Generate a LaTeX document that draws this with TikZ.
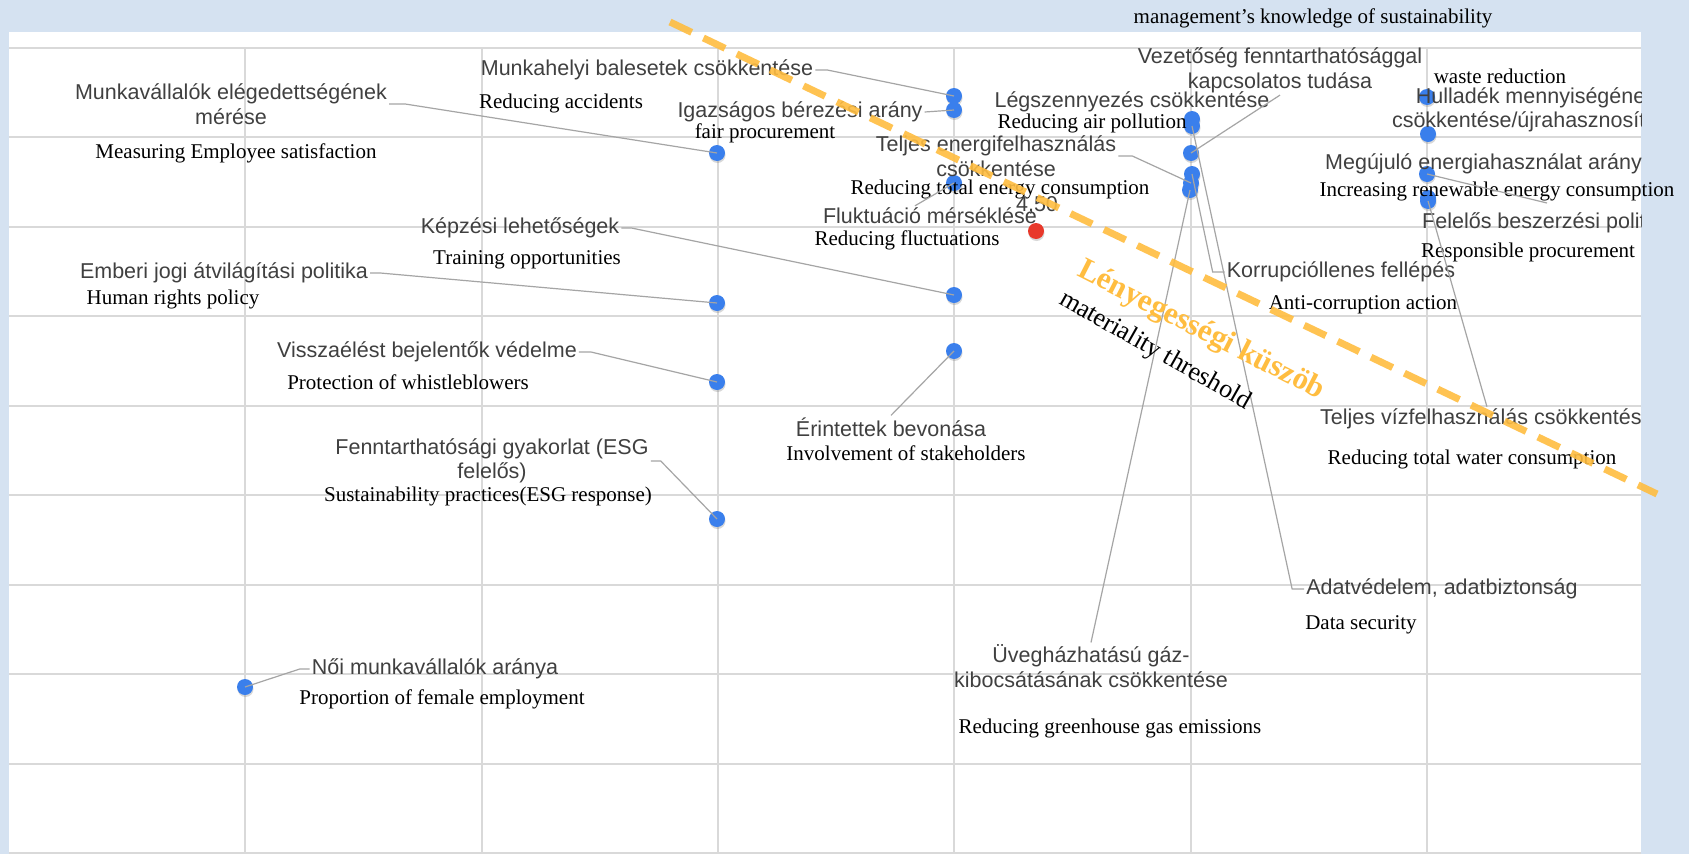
\documentclass[tikz,border=0pt]{standalone}
\usepackage{fontspec}
\setmainfont{Liberation Serif}
\setsansfont{Liberation Sans}
\usepackage{tikz}
\usetikzlibrary{calc, shadows}
\definecolor{bgblue}{RGB}{213, 226, 241}
\definecolor{gridgray}{RGB}{217, 217, 217}
\definecolor{leadergray}{RGB}{165, 165, 165}
\definecolor{labelgray}{RGB}{64, 64, 64}
\definecolor{pointblue}{RGB}{58, 127, 236}
\definecolor{pointred}{RGB}{232, 56, 42}
\definecolor{thresh}{RGB}{255, 189, 64}

\begin{document}
\begin{tikzpicture}[x=1pt, y=-1pt,
    hu/.style={font=\sffamily\fontsize{21.5}{24.5}\selectfont, text=labelgray, inner sep=2pt, align=center, yshift=-2pt},
    en/.style={font=\fontsize{21}{24}\selectfont, text=black, inner sep=2pt, yshift=-2pt},
    ptblue/.style={circle, fill=pointblue, minimum size=16pt, inner sep=0pt, drop shadow={shadow xshift=0.5pt, shadow yshift=-2pt, opacity=0.3}},
    ptred/.style={ptblue, fill=pointred},
    leader/.style={draw=leadergray, line width=1.2pt},
    gridline/.style={draw=gridgray, line width=2pt}]
    \useasboundingbox (0,0) rectangle (1689,854);
    \fill [bgblue] (0,0) rectangle (1689,854);
    \fill [white] (9,32) rectangle (1641,854);
    \foreach \k in {0,...,9} \draw [gridline] (9,48+89.44*\k) -- (1641,48+89.44*\k);
    \foreach \k in {1,...,6} \draw [gridline] (9+236.3*\k,48) -- (9+236.3*\k,853);

    % data points
    \node [ptblue] (pbaleset) at (954,96) {};
    \node [ptblue] (pigazsagos) at (954,110) {};
    \node [ptblue] (pelegedett) at (717,153) {};
    \node [ptblue] (pfluktuacio) at (954,183) {};
    \node [ptblue] (plegszenny) at (1192,119) {};
    \node [ptblue] (padat) at (1192,126) {};
    \node [ptblue] (pvezetoseg) at (1191,153) {};
    \node [ptblue] (pkorrupcio) at (1192,174) {};
    \node [ptblue] (penergia) at (1191,183) {};
    \node [ptblue] (puveg) at (1190,190) {};
    \node [ptblue] (phulladek) at (1427,97) {};
    \node [ptblue] (phulladekb) at (1428,134) {};
    \node [ptblue] (pmegujulo) at (1427,174) {};
    \node [ptblue] (pbeszerzes) at (1428,198) {};
    \node [ptblue] (pviz) at (1428,201) {};
    \node [ptblue] (pkepzes) at (954,295) {};
    \node [ptblue] (perintett) at (954,351) {};
    \node [ptblue] (pemberi) at (717,303) {};
    \node [ptblue] (pvisszaeles) at (717,382) {};
    \node [ptblue] (pfenntart) at (717,519) {};
    \node [ptblue] (pnoi) at (245,687) {};
    \node [ptred] (patlag) at (1036,231) {};

    % labels
    \node [hu] (baleset) at (647,68) {Munkahelyi balesetek csökkentése};
    \node [en] (baleseten) at (561,101) {Reducing accidents};
    \node [hu] (elegedett) at (231,102) {Munkavállalók elégedettségének\\mérése};
    \node [en] (elegedetten) at (236,151) {Measuring Employee satisfaction};
    \node [hu] (igazsagos) at (800,110) {Igazságos bérezési arány};
    \node [en] (igazsagosen) at (765,131) {fair procurement};
    \node [hu] (energia) at (996,154) {Teljes energifelhasználás\\csökkentése};
    \node [en] (energiaen) at (1000,187) {Reducing total energy consumption};
    \node [hu] (atlag) at (1037,203) {4,50};
    \node [hu] (fluktuacio) at (930,214) {Fluktuáció mérséklése};
    \node [en] (fluktuacioen) at (907,238) {Reducing fluctuations};
    \node [hu] (kepzes) at (520,226) {Képzési lehetőségek};
    \node [en] (kepzesen) at (527,258) {Training opportunities};
    \node [hu] (emberi) at (224,271) {Emberi jogi átvilágítási politika};
    \node [en] (emberien) at (173,297) {Human rights policy};
    \node [hu] (visszaeles) at (427,350) {Visszaélést bejelentők védelme};
    \node [en] (visszaelesen) at (408,380) {Protection of whistleblowers};
    \node [hu] (erintett) at (891,425) {Érintettek bevonása};
    \node [en] (erintetten) at (906,451) {Involvement of stakeholders};
    \node [hu] (fenntart) at (492,459) {Fenntarthatósági gyakorlat (ESG\\felelős)};
    \node [en] (fenntarten) at (488,494) {Sustainability practices(ESG response)};
    \node [hu] (noi) at (435,667) {Női munkavállalók aránya};
    \node [en] (noien) at (442,697) {Proportion of female employment};
    \node [hu] (uveg) at (1091,664) {Üvegházhatású gáz-\\kibocsátásának csökkentése};
    \node [en] (uvegen) at (1110,726) {Reducing greenhouse gas emissions};
    \node [hu] (adat) at (1442,587) {Adatvédelem, adatbiztonság};
    \node [en] (adaten) at (1361,623) {Data security};
    \node [hu] (korrupcio) at (1341,270) {Korrupcióllenes fellépés};
    \node [en] (korrupcioen) at (1363,303) {Anti-corruption action};
    \node [hu] (vezetoseg) at (1280,68.5) {Vezetőség fenntarthatósággal\\kapcsolatos tudása};
    \node [en] (vezetosegen) at (1313,16) {management's knowledge of sustainability};
    \node [hu] (legszenny) at (1132,100) {Légszennyezés csökkentése};
    \node [en] (legszennyen) at (1092,121) {Reducing air pollution};
    \node [en] (hulladeken) at (1500,74) {waste reduction};
    \node [en] (megujuloen) at (1497,189) {Increasing renewable energy consumption};
    \node [en] (beszerzesen) at (1528,250) {Responsible procurement};
    \node [en] (vizen) at (1472,457) {Reducing total water consumption};
    \begin{scope}
        \clip (9,32) rectangle (1641,854);
        \node [hu] (hulladek) at (1536,108) {Hulladék mennyiségének\\csökkentése/újrahasznosítása};
        \node [hu, anchor=west] (megujulo) at (1323,162) {Megújuló energiahasználat aránya};
        \node [hu, anchor=west] (beszerzes) at (1420,221) {Felelős beszerzési politika};
        \node [hu, anchor=west] (viz) at (1318,417) {Teljes vízfelhasználás csökkentése};
    \end{scope}

    % leader lines
    \coordinate (megujuloveg) at (1547,203);
    \draw [leader] (baleset.east) -- ++(12,0) -- (pbaleset.center);
    \draw [leader] (elegedett.east) -- ++(16,0) -- (pelegedett.center);
    \draw [leader] (igazsagos.east) -- (pigazsagos.center);
    \draw [leader] (energia.east) -- ++(14,0) -- (penergia.center);
    \draw [leader] ([xshift=-15pt]fluktuacio.north) -- (pfluktuacio.center);
    \draw [leader] (kepzes.east) -- ++(10,0) -- (pkepzes.center);
    \draw [leader] (emberi.east) -- ++(10,0) -- (pemberi.center);
    \draw [leader] (visszaeles.east) -- ++(12,0) -- (pvisszaeles.center);
    \draw [leader] (erintett.north) -- (perintett.center);
    \draw [leader] (fenntart.east) -- ++(10,0) -- (pfenntart.center);
    \draw [leader] (noi.west) -- ++(-10,0) -- (pnoi.center);
    \draw [leader] (uveg.north) -- (puveg.center);
    \draw [leader] (adat.west) -- ++(-12,0) -- (padat.center);
    \draw [leader] (korrupcio.west) -- ++(-12,0) -- (pkorrupcio.center);
    \draw [leader] (vezetoseg.south) -- (pvezetoseg.center);
    \draw [leader] (pmegujulo.center) -- (megujuloveg);
    \draw [leader] (viz.north) -- (pviz.center);

    % materiality threshold
    \coordinate (kuszoba) at (670,22);
    \coordinate (kuszobb) at (1657,494);
    \draw [thresh, line width=7pt, dash pattern=on 24pt off 13pt, opacity=0.9] (kuszoba) -- (kuszobb);
    \node [rotate=-27, text=thresh, font=\bfseries\fontsize{31}{34}\selectfont] (kuszob) at (1201,331) {Lényegességi küszöb};
    \node [rotate=-29.5, font=\fontsize{26}{30}\selectfont] (kuszoben) at (1155,351) {materiality threshold};
\end{tikzpicture}
\end{document}
